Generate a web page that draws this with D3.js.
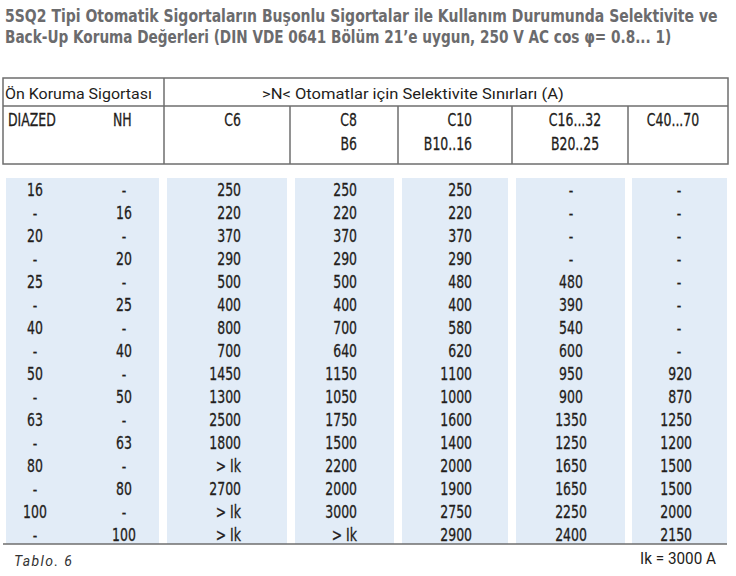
<!DOCTYPE html>
<html><head><meta charset="utf-8">
<script src="https://cdn.jsdelivr.net/npm/d3@7"></script>
<style>
html,body{margin:0;padding:0;background:#fff;}
svg{display:block;}
</style></head>
<body>
<svg id="chart" width="736" height="576"></svg>
<script>
const titleLines = [
  "5SQ2 Tipi Otomatik Sigortaların Buşonlu Sigortalar ile Kullanım Durumunda Selektivite ve",
  "Back-Up Koruma Değerleri (DIN VDE 0641 Bölüm 21\u2019e uygun, 250 V AC cos \u03C6= 0.8... 1)"
];
const headerGroup1 = "Ön Koruma Sigortası";
const headerGroup2 = ">N< Otomatlar için  Selektivite Sınırları (A)";
const colHeaders = [["DIAZED"], ["NH"], ["C6"], ["C8", "B6"], ["C10", "B10..16"], ["C16...32", "B20..25"], ["C40...70"]];
const diazed = ["16","-","20","-","25","-","40","-","50","-","63","-","80","-","100","-"];
const nh     = ["-","16","-","20","-","25","-","40","-","50","-","63","-","80","-","100"];
const c6     = ["250","220","370","290","500","400","800","700","1450","1300","2500","1800","> Ik","2700","> Ik","> Ik"];
const c8     = ["250","220","370","290","500","400","700","640","1150","1050","1750","1500","2200","2000","3000","> Ik"];
const c10    = ["250","220","370","290","480","400","580","620","1100","1000","1600","1400","2000","1900","2750","2900"];
const c16    = ["-","-","-","-","480","390","540","600","950","900","1350","1250","1650","1650","2250","2400"];
const c40    = ["-","-","-","-","-","-","-","-","920","870","1250","1200","1500","1500","2000","2150"];
const footLeft = "Tablo. 6";
const footRight = "Ik = 3000 A";

const svg = d3.select("#chart");
const narrow = "'Liberation Sans Narrow','DejaVu Sans Condensed',sans-serif";
const light = "Roboto,'Liberation Sans',sans-serif";
const textCol = "#231d1b";
const lineCol = "#6e6e6e";
const bg = "#e2ecf7";
const SX = 0.77;
const FS = 18;

function place(sel, xf, yf, sx){
  sel.attr("x",0).attr("y",0)
     .attr("transform",(d,i)=>`translate(${typeof xf==="function"?xf(d,i):xf},${typeof yf==="function"?yf(d,i):yf}) scale(${sx},1)`);
  return sel;
}

// title: fit to widths via horizontal scaling
const titleTargets = [713, 667];
svg.selectAll("text.title").data(titleLines).join("text")
  .attr("class","title")
  .attr("font-family",narrow).attr("font-weight","bold").attr("font-size",17.5)
  .attr("fill","#6b6b6d")
  .text(d=>d)
  .each(function(d,i){
    const w = this.getComputedTextLength();
    d3.select(this).attr("x",0).attr("y",0)
      .attr("transform",`translate(5,${22+i*21}) scale(${titleTargets[i]/w},1)`);
  });

// header table lines
const hdr = {top:78, mid:106, bot:164, left:3, right:728};
const vlines = [164, 290, 398, 512, 628];
const g = svg.append("g").attr("stroke",lineCol).attr("stroke-width",1.5).attr("fill","none");
g.append("rect").attr("x",hdr.left).attr("y",hdr.top).attr("width",hdr.right-hdr.left).attr("height",hdr.bot-hdr.top);
g.append("line").attr("x1",hdr.left).attr("x2",hdr.right).attr("y1",hdr.mid).attr("y2",hdr.mid);
g.append("line").attr("x1",164).attr("x2",164).attr("y1",hdr.top).attr("y2",hdr.bot);
vlines.slice(1).forEach(x=>g.append("line").attr("x1",x).attr("x2",x).attr("y1",hdr.mid).attr("y2",hdr.bot));

function fitText(str, x, y, target, font, size){
  const t = svg.append("text").attr("font-family",font).attr("font-size",size).attr("fill",textCol).text(str);
  const w = t.node().getComputedTextLength();
  t.attr("x",0).attr("y",0).attr("transform",`translate(${x},${y}) scale(${target/w},1)`);
  return t;
}
fitText(headerGroup1, 5, 99, 147, light, 15.5);
fitText(headerGroup2, 262, 99, 302, light, 15.5);

// column headers: [x, anchor]
const hdrPos = [[8,"start"],[113,"start"],[241,"end"],[357,"end"],[472,"end"],[575,"middle"],[673,"middle"]];
colHeaders.forEach((lines,ci)=>{
  place(svg.selectAll(null).data(lines).join("text")
    .attr("text-anchor",hdrPos[ci][1])
    .attr("font-family",narrow).attr("font-size",FS).attr("fill",textCol)
    .attr("stroke",textCol).attr("stroke-width",0.3)
    .text(d=>d), hdrPos[ci][0], (d,i)=>126+i*24, SX);
});

// body
const n = diazed.length;
const y = d3.scaleBand().domain(d3.range(n)).range([178, 546]);
const blocks = [[6,159],[167,287],[295,394],[402,508],[516,625],[632,727]];
svg.selectAll("rect.bg").data(blocks).join("rect").attr("class","bg")
  .attr("x",d=>d[0]).attr("width",d=>d[1]-d[0])
  .attr("y",178).attr("height",544-178).attr("fill",bg);

const cols = [
  {vals:diazed, x:35, anchor:"middle"},
  {vals:nh, x:124, anchor:"middle"},
  {vals:c6, x:241, anchor:"end"},
  {vals:c8, x:357, anchor:"end"},
  {vals:c10, x:472, anchor:"end"},
  {vals:c16, x:571, anchor:"middle"},
  {vals:c40, x:692, anchor:"end", dashX:679}
];
cols.forEach(c=>{
  place(svg.selectAll(null).data(c.vals).join("text")
    .attr("text-anchor",d=> (d==="-" && c.dashX) ? "middle" : c.anchor)
    .attr("font-family",narrow).attr("font-size",FS).attr("fill",textCol)
    .attr("stroke",textCol).attr("stroke-width",0.3)
    .text(d=>d),
    d=> (d==="-" && c.dashX) ? c.dashX : c.x,
    (d,i)=>y(i)+y.bandwidth()/2+6.5, SX);
});

svg.append("line").attr("x1",3).attr("x2",727).attr("y1",544).attr("y2",544)
  .attr("stroke",lineCol).attr("stroke-width",1.5);

svg.append("text").attr("x",14).attr("y",566).attr("font-family",light).attr("font-style","italic")
  .attr("font-size",14).attr("letter-spacing",1.4).attr("fill","#333").text(footLeft);
const fr = svg.append("text").attr("font-family",light).attr("font-size",16).attr("fill",textCol)
  .attr("text-anchor","end").text(footRight);
{
  const w = fr.node().getComputedTextLength();
  fr.attr("x",0).attr("y",0).attr("transform",`translate(716,564) scale(${76/w},1)`);
}
</script>
</body></html>
